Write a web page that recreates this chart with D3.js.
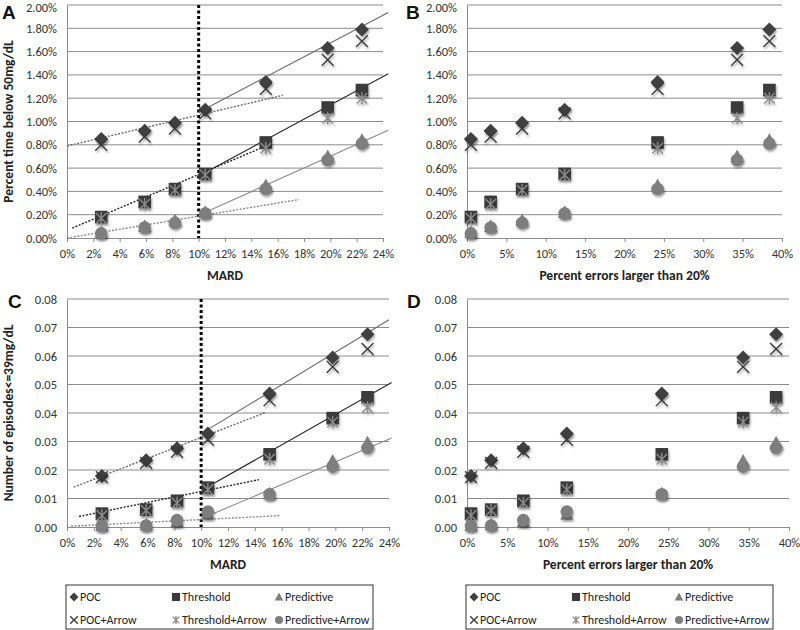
<!DOCTYPE html>
<html><head><meta charset="utf-8">
<script src="https://cdn.jsdelivr.net/npm/d3@7"></script>
<style>
body{margin:0;background:#fff;}
svg{font-family:Carlito,Lato,"Open Sans",sans-serif;}
</style></head>
<body><svg id="c" width="800" height="630"></svg>
<script>
// ---------- DATA ----------
const seriesNames = ["POC","Threshold","Predictive","POC+Arrow","Threshold+Arrow","Predictive+Arrow"];
const mardX = [2.6, 5.9, 8.2, 10.5, 15.1, 19.8, 22.4];          // MARD (%)
const errX  = [0.5, 3.0, 7.0, 12.4, 24.2, 34.3, 38.4];          // Percent errors > 20% (%)

// Percent time below 50 mg/dL (%)
const timePOC        = [0.85, 0.92, 0.99, 1.10, 1.34, 1.63, 1.79];
const timeThreshold  = [0.18, 0.31, 0.42, 0.55, 0.82, 1.12, 1.27];
const timePredictive = [0.05, 0.10, 0.15, 0.22, 0.45, 0.70, 0.84];
const timePOCArrow   = [0.80, 0.87, 0.94, 1.07, 1.28, 1.53, 1.69];
const timeThrArrow   = [0.17, 0.29, 0.41, 0.54, 0.77, 1.03, 1.20];
const timePredArrow  = [0.04, 0.09, 0.13, 0.21, 0.42, 0.67, 0.81];

// Number of episodes <= 39 mg/dL
const epiPOC        = [0.0179, 0.0234, 0.0276, 0.0328, 0.0468, 0.0595, 0.0676];
const epiThreshold  = [0.0047, 0.0061, 0.0092, 0.0138, 0.0255, 0.0382, 0.0455];
const epiPredictive = [0.0006, 0.0008, 0.0020, 0.0045, 0.0117, 0.0232, 0.0296];
const epiPOCArrow   = [0.0175, 0.0225, 0.0264, 0.0307, 0.0445, 0.0562, 0.0625];
const epiThrArrow   = [0.0040, 0.0058, 0.0084, 0.0131, 0.0238, 0.0368, 0.0420];
const epiPredArrow  = [0.0004, 0.0005, 0.0024, 0.0054, 0.0115, 0.0212, 0.0277];

// Trend lines (x in %, y in panel units): [x0, y0, x1, y1]
const trendAsegs = [
  {s:"POC",        dotted:true,  seg:[0.0, 0.79, 16.4, 1.225]},
  {s:"POC",        dotted:false, seg:[10.0, 1.08, 24.4, 1.935]},
  {s:"Threshold",  dotted:true,  seg:[0.4, 0.085, 15.0, 0.785]},
  {s:"Threshold",  dotted:false, seg:[9.9, 0.525, 24.4, 1.41]},
  {s:"Predictive", dotted:true,  seg:[0.0, 0.0, 17.6, 0.33]},
  {s:"Predictive", dotted:false, seg:[10.0, 0.195, 24.4, 0.925]}
];
const trendCsegs = [
  {s:"POC",        dotted:true,  seg:[0.5, 0.0140, 14.8, 0.0402]},
  {s:"POC",        dotted:false, seg:[9.9, 0.0325, 24.0, 0.0727]},
  {s:"Threshold",  dotted:true,  seg:[0.9, 0.0037, 14.3, 0.0166]},
  {s:"Threshold",  dotted:false, seg:[10.2, 0.0133, 24.2, 0.0507]},
  {s:"Predictive", dotted:true,  seg:[0.3, 0.0003, 15.9, 0.0040]},
  {s:"Predictive", dotted:false, seg:[10.0, 0.0029, 24.2, 0.0312]}
];

const mardTicks = [0,2,4,6,8,10,12,14,16,18,20,22,24];
const errTicks  = [0,5,10,15,20,25,30,35,40];
const timeTicks = [0,0.2,0.4,0.6,0.8,1.0,1.2,1.4,1.6,1.8,2.0];
const epiTicks  = [0,0.01,0.02,0.03,0.04,0.05,0.06,0.07,0.08];
const cutoffMARD = 10;

// ---------- STYLE ----------
const trendColor = {POC:"#6a6a6a", Threshold:"#262626", Predictive:"#8a8a8a"};

const svg = d3.select("#c");
const defs = svg.append("defs");
const f = defs.append("filter").attr("id","sh").attr("x","-50%").attr("y","-50%").attr("width","200%").attr("height","200%");
f.append("feDropShadow").attr("dx",1).attr("dy",2).attr("stdDeviation",1.3).attr("flood-color","#000").attr("flood-opacity",0.35);

function drawMarker(g, name, size){
  const s = size/2;
  if(name==="POC"){
    g.append("path").attr("d",`M0,${-s}L${s},0L0,${s}L${-s},0Z`).attr("fill","#3f3f3f");
  } else if(name==="Threshold"){
    const h=s*0.9;
    g.append("rect").attr("x",-h).attr("y",-h).attr("width",2*h).attr("height",2*h).attr("fill","#3a3a3a");
  } else if(name==="Predictive"){
    g.append("path").attr("d",`M0,${-s}L${s*0.95},${s*0.8}L${-s*0.95},${s*0.8}Z`).attr("fill","#7e7e7e");
  } else if(name==="POC+Arrow"){
    const h=s*0.85;
    g.append("path").attr("d",`M${-h},${-h}L${h},${h}M${h},${-h}L${-h},${h}`).attr("stroke","#3a3a3a").attr("stroke-width",1.4).attr("fill","none");
  } else if(name==="Threshold+Arrow"){
    const h=s*0.75;
    g.append("path").attr("d",`M${-h},${-h}L${h},${h}M${h},${-h}L${-h},${h}M0,${-s*0.9}L0,${s*0.9}`).attr("stroke","#8a8a8a").attr("stroke-width",1.4).attr("fill","none");
  } else {
    g.append("circle").attr("r",s*0.9).attr("fill","#7e7e7e");
  }
}

function panel(opt){
  const x = d3.scaleLinear().domain(opt.xDomain).range([opt.left,opt.right]);
  const y = d3.scaleLinear().domain(opt.yDomain).range([opt.bottom,opt.top]);
  const g = svg.append("g");
  // gridlines
  g.selectAll(".grid").data(opt.yTicks.filter(d=>d>0)).join("line")
    .attr("x1",opt.left).attr("x2",opt.right).attr("y1",d=>y(d)).attr("y2",d=>y(d))
    .attr("stroke","#8c8c8c").attr("stroke-width",1);
  // y axis
  const ya = g.append("g").attr("transform",`translate(${opt.left},0)`)
    .call(d3.axisLeft(y).tickValues(opt.yTicks).tickFormat(opt.yFmt).tickSize(0).tickPadding(10));
  ya.select(".domain").attr("stroke","#8c8c8c");
  ya.selectAll("text").attr("font-size",12.5).attr("fill","#333").attr("font-family","Carlito,Lato,sans-serif");
  ya.selectAll("text").filter(d=>d===opt.yDomain[1] && y(d)<10).attr("dy","0.5em");
  // x axis
  const xa = g.append("g").attr("transform",`translate(0,${opt.bottom})`)
    .call(d3.axisBottom(x).tickValues(opt.xTicks).tickFormat(d=>d+"%").tickSize(4).tickPadding(7).tickSizeOuter(0));
  xa.select(".domain").attr("stroke","#8c8c8c");
  xa.selectAll(".tick line").attr("stroke","#8c8c8c");
  xa.selectAll("text").attr("font-size",12.5).attr("fill","#333").attr("font-family","Carlito,Lato,sans-serif");
  // x title
  g.append("text").attr("x",(opt.left+opt.right)/2).attr("y",opt.bottom+42).attr("text-anchor","middle")
    .attr("font-weight","bold").attr("font-size",13.5).attr("fill","#222").text(opt.xTitle);
  // y title
  if(opt.yTitle){
    g.append("text").attr("transform",`translate(13,${(opt.top+opt.bottom)/2}) rotate(-90)`)
      .attr("text-anchor","middle").attr("font-weight","bold").attr("font-size",13.5).attr("fill","#222").text(opt.yTitle);
  }
  // panel letter
  g.append("text").attr("x",opt.letterX).attr("y",opt.letterY).attr("font-family","Arial,'Liberation Sans',sans-serif")
    .attr("font-weight","bold").attr("font-size",19).attr("fill","#111").text(opt.letter);
  // cutoff line
  if(opt.cutoff!==undefined){
    g.append("line").attr("x1",x(opt.cutoff)).attr("x2",x(opt.cutoff)).attr("y1",opt.top).attr("y2",opt.bottom)
      .attr("stroke","#000").attr("stroke-width",3).attr("stroke-dasharray","3,2.5");
  }
  // trend lines
  if(opt.trends){
    g.selectAll(".tr").data(opt.trends).join("line")
      .attr("x1",d=>x(d.seg[0])).attr("y1",d=>y(d.seg[1])).attr("x2",d=>x(d.seg[2])).attr("y2",d=>y(d.seg[3]))
      .attr("stroke",d=>trendColor[d.s]).attr("stroke-width",d=>d.dotted?1.4:1.1)
      .attr("stroke-dasharray",d=>d.dotted?"2,1.5":null);
  }
  // markers
  opt.series.forEach((vals,i)=>{
    const name = seriesNames[i];
    vals.forEach((v,j)=>{
      const mg = g.append("g").attr("transform",`translate(${x(opt.xs[j])},${y(v)})`).attr("filter","url(#sh)");
      drawMarker(mg,name,14);
    });
  });
}

const pctFmt = d=>d3.format(".2f")(d)+"%";
const epiFmt = d3.format(".2f");
const timeSeries = [timePOC,timeThreshold,timePredictive,timePOCArrow,timeThrArrow,timePredArrow];
const epiSeries  = [epiPOC,epiThreshold,epiPredictive,epiPOCArrow,epiThrArrow,epiPredArrow];

panel({left:67,right:383,top:5,bottom:238,xDomain:[0,24],yDomain:[0,2],xTicks:mardTicks,yTicks:timeTicks,yFmt:pctFmt,
  xTitle:"MARD",yTitle:"Percent time below 50mg/dL",letter:"A",letterX:2,letterY:19,cutoff:cutoffMARD,trends:trendAsegs,
  xs:mardX,series:timeSeries});
panel({left:467,right:782,top:5,bottom:238,xDomain:[0,40],yDomain:[0,2],xTicks:errTicks,yTicks:timeTicks,yFmt:pctFmt,
  xTitle:"Percent errors larger than 20%",letter:"B",letterX:406,letterY:19,xs:errX,series:timeSeries});
panel({left:67,right:389,top:299,bottom:527,xDomain:[0,24],yDomain:[0,0.08],xTicks:mardTicks,yTicks:epiTicks,yFmt:epiFmt,
  xTitle:"MARD",yTitle:"Number of episodes<=39mg/dL",letter:"C",letterX:8,letterY:308,cutoff:cutoffMARD,trends:trendCsegs,
  xs:mardX,series:epiSeries});
panel({left:467,right:789,top:299,bottom:527,xDomain:[0,40],yDomain:[0,0.08],xTicks:errTicks,yTicks:epiTicks,yFmt:epiFmt,
  xTitle:"Percent errors larger than 20%",letter:"D",letterX:407,letterY:308,xs:errX,series:epiSeries});

// legends
function legend(x0,y0){
  const g = svg.append("g");
  g.append("rect").attr("x",x0).attr("y",y0).attr("width",307).attr("height",44).attr("fill","#fff").attr("stroke","#333").attr("stroke-width",1);
  const colX=[8,110,213], rowY=[12,35];
  seriesNames.forEach((n,i)=>{
    const cx = x0+colX[i%3], cy = y0+rowY[Math.floor(i/3)];
    drawMarker(g.append("g").attr("transform",`translate(${cx},${cy})`),n,9);
    g.append("text").attr("x",cx+6).attr("y",cy).attr("dy","0.35em").attr("font-size",12).attr("fill","#222").text(n);
  });
}
legend(66,585);
legend(466,585);
</script></body></html>
